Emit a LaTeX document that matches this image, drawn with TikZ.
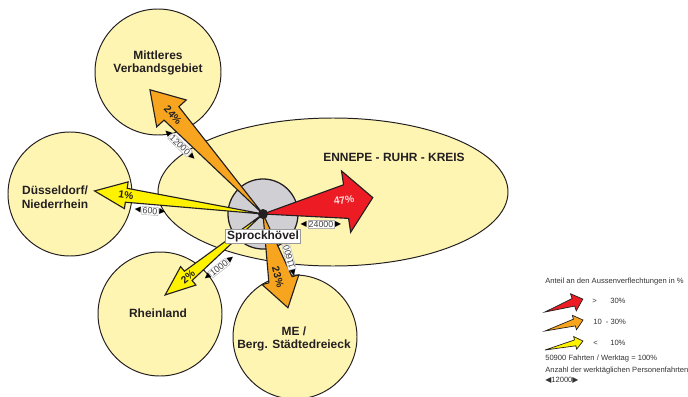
\documentclass[tikz,border=0pt]{standalone}
\usepackage{fontspec}
\setmainfont{Liberation Sans}
\newfontfamily\symfont{DejaVu Sans}
\usetikzlibrary{positioning}
\definecolor{regionfill}{HTML}{FFF5B3}
\definecolor{hubgray}{HTML}{CFCFD4}
\definecolor{flowred}{HTML}{ED1C24}
\definecolor{floworange}{HTML}{F7A51E}
\definecolor{flowyellow}{HTML}{FFF200}
\definecolor{outline}{HTML}{231F20}
\tikzset{
  region/.style={draw=outline, fill=regionfill, line width=0.7pt},
  region label/.style={
    font=\fontsize{8.5}{9.8}\selectfont\bfseries,
    align=center, text=outline
  },
  share label/.style={
    font=\fontsize{7.3}{7.3}\selectfont\bfseries,
    text=outline, inner sep=0pt
  },
  trips box/.style={
    draw=black!30, fill=white, line width=0.3pt, inner sep=0.6pt,
    font=\fontsize{6.3}{6.3}\selectfont, text=black!75
  },
  trips tip/.style={inner sep=0.4pt, font=\symfont\fontsize{5.6}{5.6}\selectfont},
  legend text/.style={
    anchor=west, inner sep=0pt,
    font=\fontsize{5.4}{5.4}\selectfont, text=black!80
  },
}
% wedge arrow: [style] origin, angle, length, head length, head half width, shaft half width, colour
\newcommand{\flowarrow}[8][line width=0.8pt]{%
  \filldraw[fill=#8, draw=outline, line join=miter, #1, shift={(#2)}, rotate=#3]
    (0,0) -- ({#4-#5},{#7}) -- ({#4-#5},{#6}) -- (#4,0)
    -- ({#4-#5},{-#6}) -- ({#4-#5},{-#7}) -- cycle;
}
% number of trips between two small triangles
\newcommand{\tripslabel}[4]{%
  \node[trips box, rotate=#3] (#1) at (#2) {#4};
  \node[trips tip, rotate=#3, anchor=east] at (#1.west) {◀};
  \node[trips tip, rotate=#3, anchor=west] at (#1.east) {▶};
}

\begin{document}
\begin{tikzpicture}[x=0.025cm, y=0.025cm]
  \useasboundingbox (0,0) rectangle (688,396);

  % Regions
  \draw[region] (158,324) circle (63);
  \draw[region] (70,202) circle (62);
  \draw[region] (160,82) circle (62);
  \draw[region] (295,59) circle (62);
  \draw[region] (333,204) ellipse [x radius=175, y radius=74];

  \node[region label] (mitte) at (158,333) {Mittleres\\Verbandsgebiet};
  \node[region label] (duess) at (55,199) {Düsseldorf/\\Niederrhein};
  \node[region label] (rhein) at (158,83) {Rheinland};
  \node[region label] (berg) at (294,57) {ME /\\Berg. Städtedreieck};
  \node[region label] (enkreis) at (394,239) {ENNEPE - RUHR - KREIS};

  % Sprockhoevel
  \node[circle, draw=outline, fill=hubgray, line width=0.9pt,
        minimum size=1.75cm, inner sep=0pt] (hub) at (263,182) {};

  % Flows
  \flowarrow{hub.center}{8.5}{111}{27}{31}{17}{flowred}
  \flowarrow{hub.center}{132.3}{168}{32}{20}{10}{floworange}
  \flowarrow{hub.center}{172.2}{170}{32}{13.5}{7}{flowyellow}
  \flowarrow{hub.center}{219.6}{127}{30}{12}{6}{flowyellow}
  \flowarrow{hub.center}{-75.1}{97}{29}{19}{12}{floworange}
  \fill[outline] (hub.center) circle (5);

  \node[share label, text=red!15!white, rotate=8] (p47) at (344,196) {47\%};
  \node[share label, rotate=-47.6] (p24) at (173,281) {24\%};
  \node[share label, rotate=-8] (p1) at (126,201) {1\%};
  \node[share label, rotate=40] (p2) at (188,119) {2\%};
  \node[share label, rotate=-75] (p23) at (278,119) {23\%};

  \tripslabel{t12000}{180,251}{-44}{12000}
  \tripslabel{t600}{150,185}{-5}{600}
  \tripslabel{t24000}{321,172}{0}{24000}
  \tripslabel{t1000}{219,128}{38}{1000}
  \tripslabel{t11600}{289,139}{105}{11600}

  \node[draw=black!40, fill=white, line width=0.3pt, inner sep=1.2pt,
        font=\fontsize{8.5}{8.5}\selectfont\bfseries, text=outline]
    (sprock) at (263,160) {Sprockhövel};

  % Legend
  \node[legend text] (legtitle) at (545,114) {Anteil an den Aussenverflechtungen in \%};
  \coordinate (legred) at (545,84);
  \coordinate (legorange) at (545,65);
  \coordinate (legyellow) at (545,46);
  \flowarrow[line width=0.5pt]{legred}{18.9}{40}{10}{9}{4}{flowred}
  \flowarrow[line width=0.5pt]{legorange}{16.1}{39.6}{9}{7.5}{3.5}{floworange}
  \flowarrow[line width=0.5pt]{legyellow}{13.3}{39}{8}{6.5}{3}{flowyellow}
  \node[legend text] (leggt) at (592,95) {>};
  \node[legend text] (leg30) at (610,95) {30\%};
  \node[legend text] (legmid) at (593,74) {10 \ - 30\%};
  \node[legend text] (leglt) at (593,53) {<};
  \node[legend text] (leg10) at (610,53) {10\%};
  \node[legend text] (legtotal) at (545,37) {50900 Fahrten / Werktag = 100\%};
  \node[legend text] (legtrips) at (545,25) {Anzahl der werktäglichen Personenfahrten};
  \node[legend text] (legnum) at (545,16)
    {{\symfont\fontsize{5.6}{5.6}\selectfont ◀}12000{\symfont\fontsize{5.6}{5.6}\selectfont ▶}};
\end{tikzpicture}
\end{document}
